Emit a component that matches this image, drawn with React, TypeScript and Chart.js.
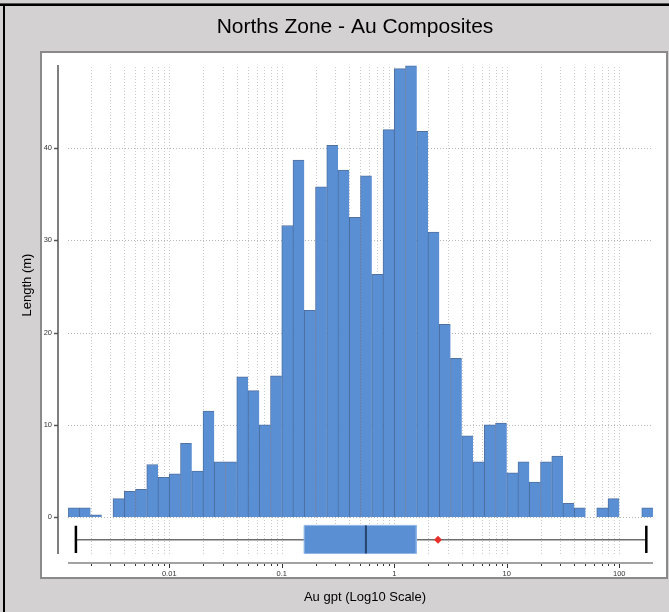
import React, { useEffect, useRef } from 'react';
import { Chart, registerables } from 'chart.js';
Chart.register(...registerables);

// Histogram bins: lower edge of each bin in log10(Au gpt), bin width 0.1 log units
const binStartsLog10 = [
  -2.9, -2.8, -2.7, -2.6, -2.5, -2.4, -2.3, -2.2, -2.1, -2.0,
  -1.9, -1.8, -1.7, -1.6, -1.5, -1.4, -1.3, -1.2, -1.1, -1.0,
  -0.9, -0.8, -0.7, -0.6, -0.5, -0.4, -0.3, -0.2, -0.1, 0.0,
  0.1, 0.2, 0.3, 0.4, 0.5, 0.6, 0.7, 0.8, 0.9, 1.0,
  1.1, 1.2, 1.3, 1.4, 1.5, 1.6, 1.7, 1.8, 1.9, 2.0,
  2.1, 2.2,
];
const binWidthLog10 = 0.1;

// Length (m) per bin
const lengthMetres = [
  1.0, 1.0, 0.25, 0, 2.0, 2.8, 3.0, 5.7, 4.3, 4.7,
  8.0, 5.0, 11.5, 6.0, 6.0, 15.2, 13.7, 10.0, 15.3, 31.6,
  38.7, 22.4, 35.8, 40.3, 37.6, 32.5, 37.0, 26.3, 42.0, 48.6,
  48.9, 41.8, 30.9, 20.9, 17.2, 8.8, 6.0, 10.0, 10.2, 4.8,
  6.0, 3.8, 6.0, 6.6, 1.5, 1.0, 0, 1.0, 2.0, 0,
  0, 1.0,
];

// Box plot statistics (Au gpt): min, Q1, median, Q3, max
const boxStatsGpt = [0.00148, 0.158, 0.56, 1.57, 174];
const boxMeanGpt = 2.45;
// vertical placement of the box plot (in Length units, below zero)
const boxTop = -0.9;
const boxBottom = -3.95;
const boxMid = -2.45;

const yTickValues = [0, 10, 20, 30, 40];
const xTickValues = [0.01, 0.1, 1, 10, 100];
const xTickLabels = ['0.01', '0.1', '1', '10', '100'];
const minorMultipliers = [1, 2, 3, 4, 5, 6, 7, 8, 9];
const decades = [-3, -2, -1, 0, 1, 2];

const X_MIN = -2.9;
const X_MAX = 2.3;
const Y_MIN = -4.0;
const Y_MAX = 49.0;

const FONT = '"Liberation Sans", Arial, Helvetica, sans-serif';

const framePlugin = {
  id: 'framePlugin',
  beforeDraw(chart: any) {
    const ctx = chart.ctx;
    ctx.save();
    ctx.fillStyle = '#d3d1d1';
    ctx.fillRect(0, 0, 669, 612);
    ctx.fillStyle = '#555';
    ctx.fillRect(0, 3, 669, 1);
    ctx.fillStyle = '#000';
    ctx.fillRect(0, 4, 669, 2);
    ctx.fillRect(3, 4, 2, 608);
    // white panel
    ctx.fillStyle = '#ffffff';
    ctx.fillRect(41, 52, 626, 526);
    ctx.strokeStyle = '#8a8a8a';
    ctx.lineWidth = 2;
    ctx.strokeRect(41, 52, 626, 526);
    // title
    ctx.fillStyle = '#000';
    ctx.font = '21px ' + FONT;
    ctx.textAlign = 'center';
    ctx.textBaseline = 'middle';
    ctx.fillText('Norths Zone - Au Composites', 355, 27);
    ctx.restore();
  },
  beforeDatasetsDraw(chart: any) {
    const ctx = chart.ctx;
    const xs = chart.scales.x;
    const ys = chart.scales.y;
    const area = chart.chartArea;
    ctx.save();
    ctx.strokeStyle = 'rgba(160,160,160,0.55)';
    ctx.lineWidth = 1;
    ctx.setLineDash([1, 2]);
    decades.forEach((d) => {
      minorMultipliers.forEach((k) => {
        const v = Math.log10(k) + d;
        if (v < X_MIN || v > X_MAX) return;
        const px = Math.round(xs.getPixelForValue(v)) + 0.5;
        ctx.beginPath();
        ctx.moveTo(px, area.top + 2);
        ctx.lineTo(px, area.bottom);
        ctx.stroke();
      });
    });
    ctx.strokeStyle = 'rgba(150,150,150,0.7)';
    yTickValues.forEach((v) => {
      const py = Math.round(ys.getPixelForValue(v)) + 0.5;
      ctx.beginPath();
      ctx.moveTo(area.left, py);
      ctx.lineTo(area.right, py);
      ctx.stroke();
    });
    ctx.restore();
  },
  afterDraw(chart: any) {
    const ctx = chart.ctx;
    const xs = chart.scales.x;
    const ys = chart.scales.y;
    const area = chart.chartArea;
    ctx.save();
    // y spine
    ctx.strokeStyle = '#555';
    ctx.lineWidth = 1.5;
    ctx.beginPath();
    ctx.moveTo(58, area.top);
    ctx.lineTo(58, area.bottom);
    ctx.stroke();
    yTickValues.forEach((v) => {
      const py = Math.round(ys.getPixelForValue(v)) + 0.5;
      ctx.beginPath();
      ctx.moveTo(54, py);
      ctx.lineTo(58, py);
      ctx.stroke();
    });
    // x spine
    const xAxisY = area.bottom + 9;
    ctx.strokeStyle = '#a3a3a3';
    ctx.lineWidth = 2;
    ctx.beginPath();
    ctx.moveTo(area.left, xAxisY);
    ctx.lineTo(area.right, xAxisY);
    ctx.stroke();
    ctx.strokeStyle = '#333';
    ctx.lineWidth = 1;
    decades.forEach((d) => {
      minorMultipliers.forEach((k) => {
        const v = Math.log10(k) + d;
        if (v < X_MIN || v > X_MAX) return;
        const px = Math.round(xs.getPixelForValue(v)) + 0.5;
        ctx.beginPath();
        ctx.moveTo(px, xAxisY + 1);
        ctx.lineTo(px, xAxisY + (k === 1 ? 5 : 3));
        ctx.stroke();
      });
    });
    // axis titles
    ctx.fillStyle = '#000';
    ctx.font = '13px ' + FONT;
    ctx.textAlign = 'center';
    ctx.textBaseline = 'middle';
    ctx.fillText('Au gpt (Log10 Scale)', 365, 597);
    ctx.translate(27, 285);
    ctx.rotate(-Math.PI / 2);
    ctx.fillText('Length (m)', 0, 0);
    ctx.restore();
  },
};

export default function App() {
  const canvasRef = useRef<HTMLCanvasElement | null>(null);

  useEffect(() => {
    if (!canvasRef.current) return;
    const lg = (v: number) => Math.log10(v);
    const [bMin, bQ1, bMed, bQ3, bMax] = boxStatsGpt;

    const histData = binStartsLog10.map((s, i) => ({
      x: s + binWidthLog10 / 2,
      y: lengthMetres[i],
    }));

    const lineBase = {
      type: 'line' as const,
      pointRadius: 0,
      tension: 0,
      fill: false,
    };

    const chart = new Chart(canvasRef.current, {
      type: 'bar',
      data: {
        datasets: [
          {
            type: 'bar',
            label: 'Length (m)',
            data: histData as any,
            backgroundColor: '#5a8fd4',
            borderColor: 'rgba(50,88,145,0.85)',
            borderWidth: { left: 1, top: 1, right: 0, bottom: 0 } as any,
            borderSkipped: false,
            barPercentage: 1,
            categoryPercentage: 1,
            order: 10,
          },
          {
            ...lineBase,
            label: 'whisker',
            data: [
              { x: lg(bMin), y: boxMid },
              { x: lg(bMax), y: boxMid },
            ],
            borderColor: '#6e6e6e',
            borderWidth: 1.5,
            order: 9,
          },
          {
            ...lineBase,
            label: 'box',
            data: [
              { x: lg(bQ1), y: boxTop },
              { x: lg(bQ3), y: boxTop },
            ],
            borderColor: 'rgba(0,0,0,0)',
            borderWidth: 0,
            backgroundColor: '#5a8fd4',
            fill: { value: boxBottom } as any,
            order: 8,
          },
          {
            ...lineBase,
            label: 'box outline',
            data: [
              { x: lg(bQ1), y: boxTop },
              { x: lg(bQ3), y: boxTop },
              { x: lg(bQ3), y: boxBottom },
              { x: lg(bQ1), y: boxBottom },
              { x: lg(bQ1), y: boxTop },
            ],
            borderColor: '#8fb6e8',
            borderWidth: 1,
            order: 7,
          },
          {
            ...lineBase,
            label: 'median',
            data: [
              { x: lg(bMed), y: boxTop },
              { x: lg(bMed), y: boxBottom },
            ],
            borderColor: '#26456e',
            borderWidth: 2,
            order: 6,
          },
          {
            ...lineBase,
            label: 'min cap',
            data: [
              { x: lg(bMin), y: -0.95 },
              { x: lg(bMin), y: -3.9 },
            ],
            borderColor: '#000',
            borderWidth: 2.5,
            order: 5,
          },
          {
            ...lineBase,
            label: 'max cap',
            data: [
              { x: lg(bMax), y: -0.95 },
              { x: lg(bMax), y: -3.9 },
            ],
            borderColor: '#000',
            borderWidth: 2.5,
            order: 5,
          },
          {
            type: 'scatter' as const,
            label: 'mean',
            data: [{ x: lg(boxMeanGpt), y: boxMid }],
            pointStyle: 'rectRot',
            pointRadius: 4,
            backgroundColor: '#e8302a',
            borderColor: '#e8302a',
            borderWidth: 0,
            order: 1,
          } as any,
        ] as any,
      },
      options: {
        responsive: true,
        maintainAspectRatio: false,
        animation: false,
        devicePixelRatio: 1,
        layout: { padding: { top: 65, left: 0, right: 16, bottom: 0 } },
        plugins: {
          legend: { display: false },
          tooltip: { enabled: false },
          title: { display: false },
        },
        scales: {
          x: {
            type: 'linear',
            min: X_MIN,
            max: X_MAX,
            offset: false,
            grid: { display: false, drawTicks: false },
            border: { display: false },
            afterBuildTicks: (scale: any) => {
              scale.ticks = xTickValues.map((v) => ({ value: Math.log10(v) }));
            },
            afterFit: (scale: any) => {
              scale.height = 58;
            },
            ticks: {
              padding: 15,
              autoSkip: false,
              maxRotation: 0,
              color: '#333',
              font: { size: 7.5, family: FONT },
              callback: (value: any) => {
                const idx = xTickValues.findIndex(
                  (t) => Math.abs(Math.log10(t) - Number(value)) < 1e-6
                );
                return idx >= 0 ? xTickLabels[idx] : '';
              },
            },
          },
          y: {
            type: 'linear',
            min: Y_MIN,
            max: Y_MAX,
            grid: { display: false, drawTicks: false },
            border: { display: false },
            afterBuildTicks: (scale: any) => {
              scale.ticks = yTickValues.map((v) => ({ value: v }));
            },
            afterFit: (scale: any) => {
              scale.width = 68;
            },
            ticks: {
              padding: 16,
              color: '#333',
              font: { size: 7.5, family: FONT },
              callback: (value: any) => String(value),
            },
          },
        },
      } as any,
      plugins: [framePlugin],
    });

    return () => chart.destroy();
  }, []);

  return (
    <div
      style={{
        position: 'fixed',
        left: 0,
        top: 0,
        width: 669,
        height: 612,
        background: '#d3d1d1',
      }}
    >
      <canvas ref={canvasRef} />
    </div>
  );
}
